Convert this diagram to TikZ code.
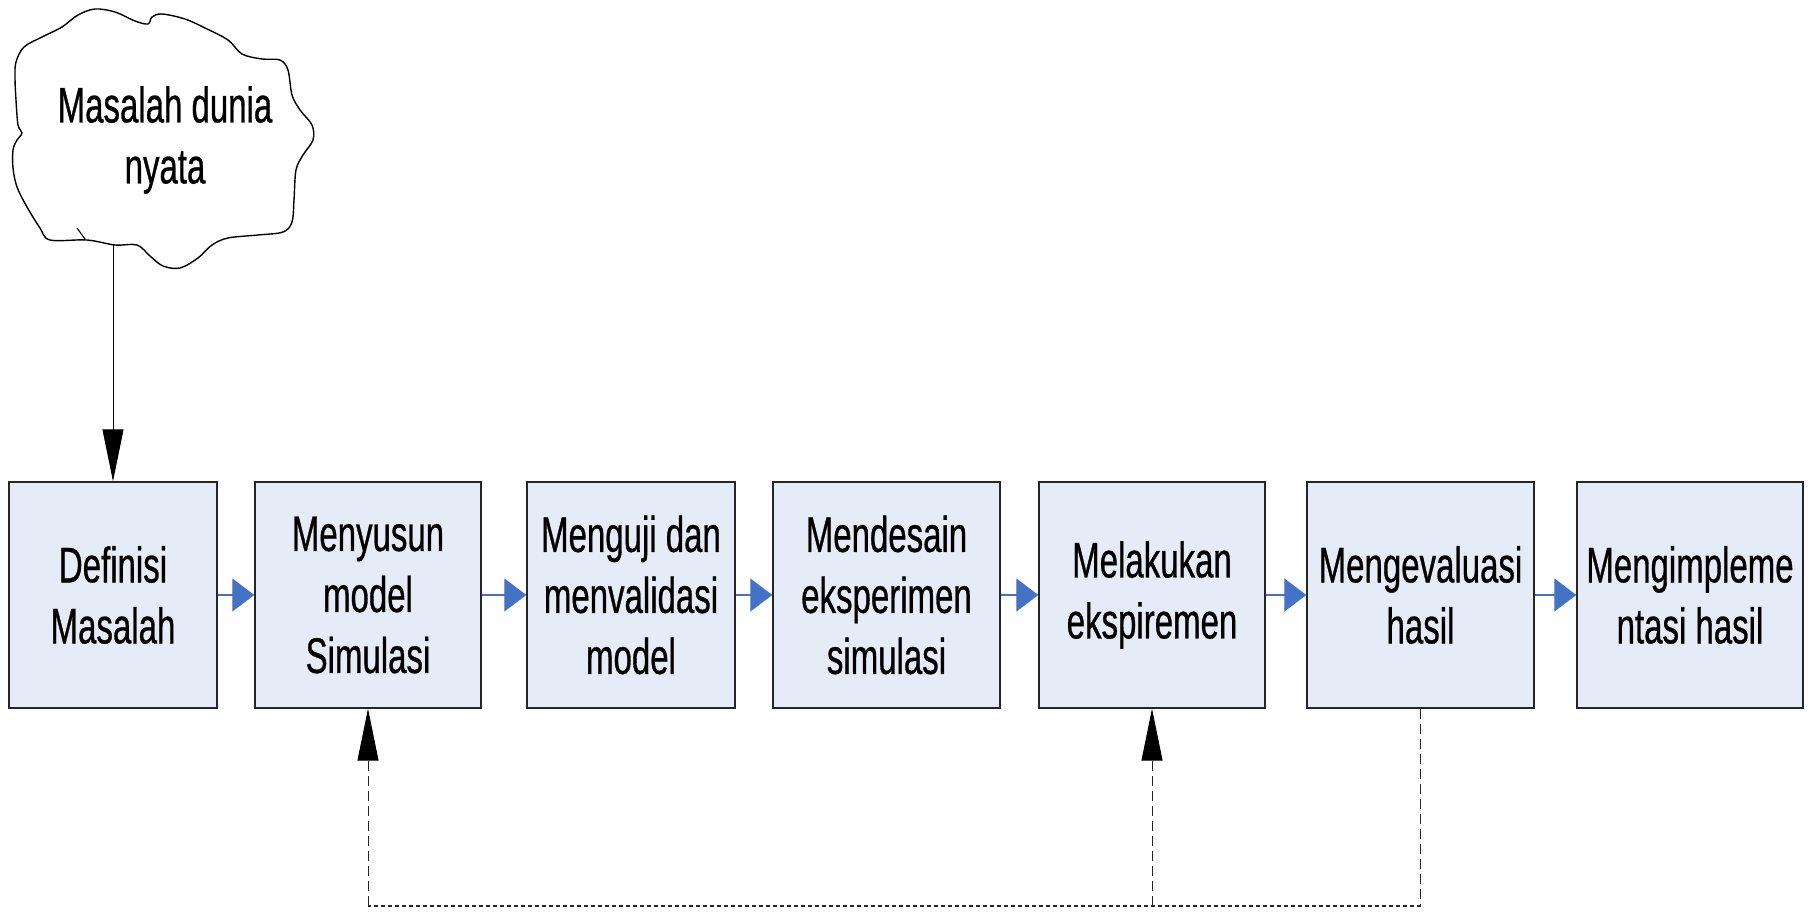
\documentclass[tikz,border=0pt]{standalone}
\usepackage{fontspec}
\setmainfont{Liberation Sans}[FakeStretch=0.66,FakeBold=0.6]
\usetikzlibrary{arrows.meta}
\definecolor{boxfill}{RGB}{230,236,247}
\definecolor{arrblue}{RGB}{68,114,196}
\begin{document}
\begin{tikzpicture}[x=1pt,y=-1pt,
  txt/.style={align=center, font=\fontsize{50}{61}\selectfont, inner sep=0pt},
  stepbox/.style={txt, draw=black!85, line width=1.4pt, fill=boxfill, minimum height=226pt},
  flow/.style={draw=arrblue, line width=1.3pt, -{Triangle[length=22pt,width=33pt]}},
  bigtip/.style={-{Triangle[length=52pt,width=21pt,fill=black,color=black]}},
  fbv/.style={draw=black!85, line width=1pt, dash pattern=on 10pt off 5pt},
  fbh/.style={draw=black!85, line width=1.2pt, dash pattern=on 4pt off 3pt}
]
\useasboundingbox (0,0) rectangle (1812,912);
% cloud
\draw[line width=1.4pt, fill=white] plot[smooth cycle, tension=0.55] coordinates {
 (16,62) (24,47) (42,37) (62,27) (78,15) (95,9) (115,12) (135,21) (148,24) (152,17) (162,14)
 (185,19) (205,28) (228,40) (242,54) (262,59) (280,60) (288,70) (292,95) (300,110) (312,125)
 (313,140) (303,155) (296,170) (294,200) (292,222) (283,232) (258,235) (228,238) (212,245)
 (198,258) (180,268) (163,266) (150,256) (137,245) (115,245) (87,240) (50,240) (40,228)
 (27,207) (17,187) (13,168) (13,150) (17,140) (22,133) (18,125) (16,100) (15,78)};
\draw[line width=1.1pt] (77,228) -- (85,239);
\node[txt] (cloudtxt) at (165,140) {Masalah dunia\\nyata};
\coordinate (cb) at (113,245);
% boxes
\node[stepbox, minimum width=208pt] (b1) at (113,595) {Definisi\\Masalah};
\node[stepbox, minimum width=226pt] (b2) at (368,595) {Menyusun\\model\\Simulasi};
\node[stepbox, minimum width=208pt] (b3) at (631,595) {Menguji dan\\menvalidasi\\model};
\node[stepbox, minimum width=227pt] (b4) at (886.5,595) {Mendesain\\eksperimen\\simulasi};
\node[stepbox, minimum width=226pt] (b5) at (1152,595) {Melakukan\\ekspiremen};
\node[stepbox, minimum width=227pt] (b6) at (1420.5,595) {Mengevaluasi\\hasil};
\node[stepbox, minimum width=226pt] (b7) at (1690,595) {Mengimpleme\\ntasi hasil};
% flow arrows
\draw[flow] (b1) -- (b2);
\draw[flow] (b2) -- (b3);
\draw[flow] (b3) -- (b4);
\draw[flow] (b4) -- (b5);
\draw[flow] (b5) -- (b6);
\draw[flow] (b6) -- (b7);
% cloud to box 1
\draw[line width=1pt, bigtip] (b1.north |- cb) -- (b1.north);
% feedback
\draw[fbv] (b6.south) -- (b6.south |- 0,906) coordinate (c6);
\draw[fbh] (c6) -- (b2.south |- 0,906) coordinate (c2);
\draw[fbv, bigtip] (c2) -- (b2.south);
\draw[fbv, bigtip] (b5.south |- c2) -- (b5.south);
\end{tikzpicture}
\end{document}
